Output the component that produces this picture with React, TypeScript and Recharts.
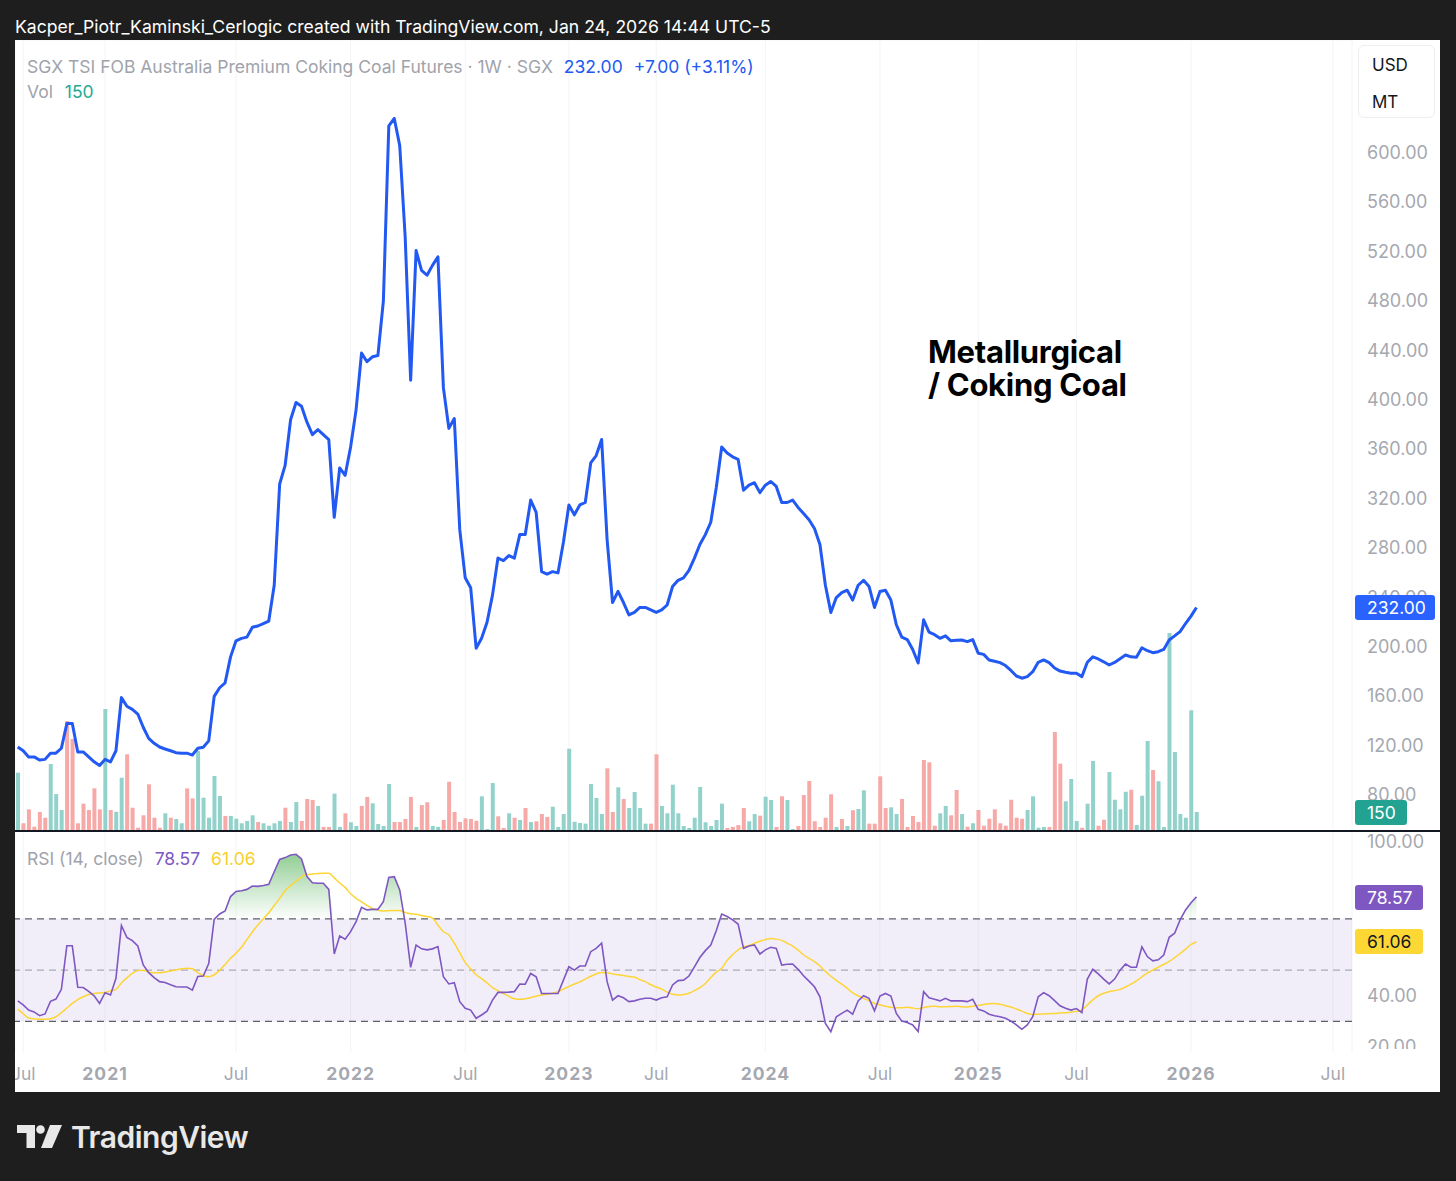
import React from "react";
import {
  ComposedChart, Line, Bar, Cell, XAxis, YAxis, CartesianGrid, Area, ReferenceArea, ReferenceLine,
} from "recharts";

// ---------------- DATA ----------------
const PRICE = [
  119, 116, 111, 111, 108.5, 109, 114, 114, 118, 138, 138, 115, 115, 111, 107, 104, 109, 107, 116, 159,
  152, 149.5, 145.7, 135, 126, 122, 119, 117.4, 116, 114.4, 114, 114, 112.5, 118, 118.8, 124, 160, 167, 171, 192,
  205, 207, 208, 216, 217, 219, 221, 250, 332, 347, 384, 398, 395, 382, 372, 376, 372, 368, 305, 345,
  339, 362, 392, 438, 431, 435, 436, 480, 622, 628, 606, 532, 416, 521, 505, 501, 509, 516, 410, 377,
  385, 295, 256, 248, 199, 207, 220, 242, 272, 270, 274, 272, 291, 291, 319, 309, 261, 259, 261, 260,
  285, 315, 307, 315, 317, 349, 355, 368, 287, 236, 245, 236, 226, 228, 232, 232, 230, 228, 230, 234,
  249, 254, 256, 262, 272, 283, 291, 301, 329, 362, 357, 354, 352, 327, 331, 333, 325, 331, 334, 330,
  317, 317, 319, 313, 308, 303, 296, 283, 250, 228, 240, 244, 246, 238, 250, 254, 249, 232, 245, 246,
  238, 218, 208, 206, 198, 187, 222, 212, 210, 207, 209, 205, 205.5, 205.7, 204.3, 206, 195, 194, 189.5, 188.5,
  187.3, 185, 181, 176.5, 174.7, 176, 180, 187.6, 189.5, 187.3, 183, 180.5, 179.5, 178.7, 178.7, 176, 187.6, 192, 190.3, 188,
  185.4, 187.5, 190.5, 193.5, 192, 191.7, 199.4, 197, 195.4, 196.2, 198, 205.7, 209, 212.5, 219, 225, 232,
];

const VOLUME = [
  461, 61, 171, 34, 150, 105, 529, 292, 166, 869, 727, 61, 216, 166, 337, 171, 964, 166, 152, 421,
  606, 184, 26, 124, 369, 105, 26, 140, 105, 95, 61, 337, 258, 634, 263, 105, 435, 277, 119, 119,
  97, 61, 79, 124, 71, 61, 42, 61, 79, 184, 71, 229, 79, 253, 245, 198, 32, 32, 295, 32,
  140, 69, 40, 198, 269, 219, 55, 40, 371, 71, 71, 95, 269, 32, 205, 227, 40, 32, 87, 389,
  150, 71, 100, 95, 81, 274, 16, 379, 116, 24, 140, 105, 87, 182, 71, 77, 134, 111, 192, 32,
  134, 650, 73, 63, 58, 371, 261, 134, 495, 150, 345, 253, 182, 308, 182, 58, 58, 606, 198, 140,
  366, 140, 40, 24, 105, 348, 69, 40, 87, 216, 24, 32, 47, 182, 77, 134, 121, 271, 245, 32,
  274, 245, 16, 40, 284, 395, 77, 32, 105, 290, 32, 95, 40, 164, 174, 322, 58, 58, 432, 182,
  187, 134, 253, 32, 119, 71, 561, 543, 42, 140, 198, 124, 324, 134, 34, 61, 166, 42, 97, 171,
  61, 42, 247, 105, 97, 166, 274, 26, 32, 32, 782, 532, 235, 411, 79, 26, 216, 553, 42, 89,
  466, 247, 171, 310, 326, 47, 279, 711, 482, 393, 32, 1564, 624, 134, 105, 954, 150,
];

// 1 = up week (teal volume bar), 0 = down week (red volume bar)
const VOL_UP = [
  1, 0, 0, 0, 0, 0, 1, 1, 1, 0, 0, 0, 0, 0, 0, 0, 1, 0, 1, 1,
  0, 0, 0, 0, 0, 0, 0, 1, 0, 1, 1, 0, 0, 1, 1, 1, 1, 1, 0, 1,
  1, 1, 1, 1, 0, 1, 1, 1, 1, 0, 1, 1, 0, 0, 0, 1, 0, 0, 1, 1,
  0, 1, 1, 0, 0, 1, 1, 1, 1, 0, 0, 0, 0, 1, 0, 0, 1, 1, 0, 0,
  0, 0, 0, 0, 0, 1, 1, 1, 0, 0, 1, 0, 1, 0, 1, 0, 0, 0, 1, 1,
  1, 1, 1, 1, 1, 1, 1, 1, 0, 0, 1, 0, 1, 1, 1, 1, 0, 0, 1, 1,
  1, 1, 1, 1, 1, 1, 1, 1, 1, 1, 0, 0, 0, 0, 1, 1, 0, 1, 1, 0,
  0, 1, 1, 0, 0, 0, 0, 0, 0, 0, 1, 0, 1, 0, 1, 1, 0, 0, 0, 0,
  1, 1, 0, 0, 0, 0, 0, 0, 0, 1, 1, 0, 0, 1, 0, 1, 0, 0, 0, 0,
  0, 0, 0, 0, 0, 1, 1, 1, 1, 0, 0, 0, 1, 1, 1, 0, 1, 1, 0, 0,
  1, 1, 1, 1, 0, 1, 1, 1, 0, 1, 1, 1, 1, 1, 1, 1, 1,
];

const RSI = [
  38, 36.4, 34.4, 33.7, 32.2, 32.9, 37.8, 38.7, 42.5, 59.5, 59.5, 43.3, 43.2, 41.7, 40, 37, 41.2, 40.3, 46.8, 67.4,
  62.8, 61.5, 59.4, 52, 49, 47.1, 45.5, 45.2, 44.3, 43.5, 43.4, 43.4, 42.2, 47.5, 47.7, 52.6, 69.8, 71.9, 73.1, 78.7,
  80.7, 81, 81.5, 82.8, 82.7, 83, 83.5, 88.4, 93.2, 93.9, 94.9, 95.2, 93.4, 86.5, 84.1, 83.9, 83.9, 81.5, 56.3, 63.3,
  62.1, 65, 68.9, 74.5, 73.5, 73.7, 73.7, 76.7, 86.2, 86.5, 81.3, 68.3, 51.1, 59.8, 58.3, 57.9, 58.3, 59.2, 47.4, 44.6,
  45.1, 37.7, 35.1, 34.4, 31.2, 32.5, 34, 38.3, 41.3, 41.3, 41.4, 41.6, 44.6, 44.5, 48.7, 47.4, 40.9, 40.9, 40.9, 40.9,
  46.1, 51.3, 50, 51.6, 51.6, 57.2, 58.5, 60.5, 45.5, 38.3, 40, 39.2, 37.7, 38, 38.6, 39, 39, 38.3, 39.2, 39.6,
  44.2, 45.9, 46.1, 47.7, 51.3, 54.9, 57.6, 59.8, 65.4, 71.9, 70.9, 69.6, 68, 58.5, 59.4, 59.8, 56.3, 57.9, 58.9, 58.5,
  52, 52.3, 52.4, 50.3, 47.8, 45.7, 43.5, 39.6, 29.2, 26, 31.8, 33.1, 34.4, 32.8, 38, 40, 39, 34.1, 39.9, 40.9,
  39.9, 33.1, 30.1, 29.6, 28.6, 26, 41.6, 39.2, 38.6, 38, 39, 38, 38, 38, 37.7, 38.6, 34.7, 34.1, 32.8, 32.2,
  31.8, 31.2, 30.1, 28.6, 26.9, 28.6, 31.8, 39.6, 41.2, 40, 38.1, 36.1, 35.1, 34.4, 35, 33.4, 46.5, 50.3, 48.5, 46.5,
  44.6, 46.5, 50, 52.4, 51.1, 51.1, 59.1, 55.3, 53.6, 54, 55.9, 62.8, 64.4, 69.6, 73.5, 76.3, 78.57,
];

const RSI_MA = [
  34.8, 33, 31.3, 31, 30.8, 30.8, 31, 31.8, 33.4, 35.2, 37, 38.5, 39.6, 40.5, 40.9, 41.1, 41.3, 41.9, 42.5, 45,
  47, 48.7, 49.8, 50, 49.2, 49, 49, 49.3, 49.7, 50.1, 50.5, 50.7, 50.5, 49, 47.8, 47.4, 48.2, 49.9, 52.2, 54.6,
  56.6, 58.9, 61.9, 64.9, 67.6, 70, 72.4, 75.2, 78, 81, 83, 84.6, 86.4, 87.3, 87.5, 87.7, 87.8, 87.8, 86, 84,
  82.3, 79.8, 78, 76.6, 75.3, 74, 73.4, 73.1, 73.2, 73.3, 73.3, 72.5, 72, 71.8, 71.3, 70.9, 70.3, 67.6, 65, 63.7,
  60.5, 56.8, 53, 50.5, 48.2, 46.7, 45, 43.2, 42, 40.8, 39.8, 38.8, 38.6, 38.8, 39.3, 39.8, 40.3, 40.6, 41, 41.6,
  42.6, 43.6, 44.6, 45.4, 46.5, 47.6, 48.5, 49.1, 49, 48.5, 48.2, 47.9, 47.5, 47.3, 46.3, 45.5, 44.3, 43.4, 42.6, 41.4,
  40.6, 40.3, 40.5, 41, 42, 43.2, 44.8, 47.1, 49.2, 50.7, 53.8, 56, 57.9, 59, 59.6, 60.5, 61.3, 61.9, 62.3, 62.1,
  61.6, 60.5, 59.4, 57.8, 56, 54.6, 53.3, 51.6, 49.5, 47.6, 46, 44.5, 42.9, 41.1, 40, 39, 38.1, 37, 36.5, 35.9,
  35.5, 35.3, 35.3, 35.5, 35.2, 34.9, 35.4, 35.8, 35.9, 35.7, 35.7, 35.8, 35.9, 35.7, 35.6, 35.9, 36.2, 36.6, 36.9, 37,
  36.7, 36.1, 35.6, 34.8, 34, 33.1, 32.7, 32.8, 32.9, 33, 33.1, 33.3, 33.4, 33.6, 33.9, 34.5, 36.4, 38.4, 40, 41,
  41.6, 42, 42.5, 43.4, 44.5, 45.8, 47.4, 48.9, 50, 51.2, 52.2, 53.4, 54.9, 56.5, 58.2, 60, 61.06,
];

// time-axis ticks (bar slot index -> label)
const TIME_TICK_IDX = [1, 16, 40, 61, 82, 101, 117, 137, 158, 176, 194, 215, 241];
const TIME_TICK_LABELS = ["Jul", "2021", "Jul", "2022", "Jul", "2023", "Jul", "2024", "Jul", "2025", "Jul", "2026", "Jul"];
const PRICE_TICKS = [80, 120, 160, 200, 240, 280, 320, 360, 400, 440, 480, 520, 560, 600];
const RSI_TICKS = [20, 40, 60, 80, 100];

const LAST_PRICE = 232.0;
const LAST_VOL = 150;
const LAST_RSI = 78.57;
const LAST_RSI_MA = 61.06;
const SLOT_COUNT = 245; // bars + empty future slots on the time scale

// ---------------- STYLE ----------------
const FONT = "Inter, 'Noto Sans', Roboto, sans-serif";
const TEAL = "#93d2cb";
const RED = "#f6a9a7";
const BLUE = "#2159f2";
const PURPLE = "#7e57c2";
const YELLOW = "#fdd535";
const AXIS_TEXT = "#a5a8b0";

const rows = Array.from({ length: SLOT_COUNT }, (_, i) => ({
  i,
  price: i < PRICE.length ? PRICE[i] : null,
  vol: i < VOLUME.length ? VOLUME[i] : null,
  up: VOL_UP[i] === 1,
  rsi: i < RSI.length ? RSI[i] : null,
  ma: i < RSI_MA.length ? RSI_MA[i] : null,
  ob: i < RSI.length ? Math.max(RSI[i], 70) : null,
}));

const PriceTick = (props: any) => {
  const { x, y, payload } = props;
  return (
    <text x={x + 7} y={y} dy={6} fill={AXIS_TEXT} fontSize={18} fontFamily={FONT} textAnchor="start">
      {Number(payload.value).toFixed(2)}
    </text>
  );
};

const RsiTick = (props: any) => {
  const { x, y, payload } = props;
  return (
    <text x={x + 7} y={y} dy={6} fill={AXIS_TEXT} fontSize={18} fontFamily={FONT} textAnchor="start" clipPath="url(#rsiPaneClip)">
      {Number(payload.value).toFixed(2)}
    </text>
  );
};

const TimeTick = (props: any) => {
  const { x, y, payload } = props;
  const k = TIME_TICK_IDX.indexOf(payload.value);
  const label = k >= 0 ? TIME_TICK_LABELS[k] : "";
  const isYear = /^\d+$/.test(label);
  return (
    <text x={x} y={y} dy={20} fill={AXIS_TEXT} fontSize={17.5} fontWeight={isYear ? 700 : 400}
      fontFamily={FONT} textAnchor="middle" letterSpacing={isYear ? 1 : 0}>
      {label}
    </text>
  );
};

const Badge = ({ top, width, bg, color, text }: any) => (
  <div style={{
    position: "absolute", left: 1340, top, width, height: 25, background: bg, color,
    borderRadius: 3, fontSize: 17.5, lineHeight: "25px", paddingLeft: 12, boxSizing: "border-box", fontFamily: FONT,
  }}>{text}</div>
);

export default function App() {
  return (
    <div style={{ position: "relative", width: 1456, height: 1181, background: "#1e1e1e", fontFamily: FONT, overflow: "hidden" }}>
      <style>{`body{margin:0}`}</style>
      <div style={{ position: "absolute", left: 15, top: 16, color: "#ffffff", fontSize: 17.6, whiteSpace: "nowrap" }}>
        Kacper_Piotr_Kaminski_Cerlogic created with TradingView.com, Jan 24, 2026 14:44 UTC-5
      </div>

      <div style={{ position: "absolute", left: 15, top: 40, width: 1425, height: 1052, background: "#ffffff", overflow: "hidden" }}>
        {/* main price pane */}
        <div style={{ position: "absolute", left: 0, top: 0 }}>
          <ComposedChart width={1425} height={791} data={rows} margin={{ top: 0, right: 0, bottom: 0, left: 0 }} barCategoryGap={0}>
            <CartesianGrid stroke="#f3f4f6" vertical={true} horizontal={true} />
            <XAxis dataKey="i" type="category" scale="band" hide ticks={TIME_TICK_IDX} interval={0} />
            <YAxis yAxisId="p" orientation="right" width={88} domain={[51, 691.5]} ticks={PRICE_TICKS}
              axisLine={false} tickLine={false} tick={<PriceTick />} allowDataOverflow />
            <YAxis yAxisId="v" hide domain={[0, 6250]} allowDataOverflow />
            <Bar yAxisId="v" dataKey="vol" barSize={4} isAnimationActive={false}>
              {rows.map((r) => (<Cell key={r.i} fill={r.up ? TEAL : RED} />))}
            </Bar>
            <Line yAxisId="p" dataKey="price" type="linear" stroke={BLUE} strokeWidth={3} dot={false}
              isAnimationActive={false} strokeLinejoin="round" />
          </ComposedChart>
        </div>

        {/* legend */}
        <div style={{ position: "absolute", left: 12, top: 16, fontSize: 17.5, whiteSpace: "nowrap", color: "#a0a3ab" }}>
          SGX TSI FOB Australia Premium Coking Coal Futures · 1W · SGX
          <span style={{ color: BLUE, marginLeft: 11 }}>232.00</span>
          <span style={{ color: BLUE, marginLeft: 11 }}>+7.00 (+3.11%)</span>
        </div>
        <div style={{ position: "absolute", left: 12, top: 41, fontSize: 17.5, whiteSpace: "nowrap", color: "#a0a3ab" }}>
          Vol <span style={{ color: "#22ab94", marginLeft: 7 }}>150</span>
        </div>

        {/* currency box */}
        <div style={{ position: "absolute", left: 1343, top: 5, width: 77, height: 73, border: "1px solid #eceef2",
          borderRadius: 6, boxSizing: "border-box", color: "#131722", fontSize: 17 }}>
          <div style={{ position: "absolute", left: 13, top: 9 }}>USD</div>
          <div style={{ position: "absolute", left: 13, top: 46 }}>MT</div>
        </div>

        {/* annotation */}
        <div style={{ position: "absolute", left: 913, top: 295, fontSize: 31, fontWeight: 700, color: "#000", lineHeight: "33px", letterSpacing: -0.3 }}>
          Metallurgical<br />/ Coking Coal
        </div>

        <Badge top={555} width={80} bg="#2962ff" color="#fff" text={LAST_PRICE.toFixed(2)} />
        <Badge top={760} width={52} bg="#22a392" color="#fff" text={String(LAST_VOL)} />

        {/* pane separator */}
        <div style={{ position: "absolute", left: 0, top: 790, width: 1425, height: 2, background: "#131722" }} />

        {/* RSI pane + time axis */}
        <div style={{ position: "absolute", left: 0, top: 792 }}>
          <ComposedChart width={1425} height={260} data={rows} margin={{ top: 0, right: 0, bottom: 0, left: 0 }}>
            <defs>
              <clipPath id="rsiPaneClip"><rect x={0} y={0} width={1425} height={217} /></clipPath>
              <linearGradient id="obFill" x1="0" y1="0" x2="0" y2="1">
                <stop offset="0%" stopColor="#3fa843" stopOpacity={0.95} />
                <stop offset="100%" stopColor="#4caf50" stopOpacity={0.02} />
              </linearGradient>
            </defs>
            <CartesianGrid stroke="#f3f4f6" vertical={true} horizontal={false} />
            <XAxis dataKey="i" type="category" scale="band" ticks={TIME_TICK_IDX} interval={0} height={40}
              axisLine={false} tickLine={false} tick={<TimeTick />} />
            <YAxis orientation="right" width={88} domain={[18.05, 103.9]} ticks={RSI_TICKS}
              axisLine={false} tickLine={false} tick={<RsiTick />} allowDataOverflow />
            <ReferenceArea y1={30} y2={70} fill="#7e57c2" fillOpacity={0.1} stroke="none" ifOverflow="hidden" />
            <ReferenceLine y={70} stroke="#5d606b" strokeDasharray="7 5" strokeWidth={1.2} />
            <ReferenceLine y={50} stroke="#a9acb4" strokeDasharray="7 5" strokeWidth={1.2} />
            <ReferenceLine y={30} stroke="#5d606b" strokeDasharray="7 5" strokeWidth={1.2} />
            <Area dataKey="ob" baseValue={70} type="linear" stroke="none" fill="url(#obFill)" isAnimationActive={false} />
            <Line dataKey="ma" type="monotone" stroke={YELLOW} strokeWidth={1.5} dot={false} isAnimationActive={false} />
            <Line dataKey="rsi" type="linear" stroke={PURPLE} strokeWidth={1.6} dot={false} isAnimationActive={false} />
          </ComposedChart>
        </div>

        <div style={{ position: "absolute", left: 12, top: 808, fontSize: 17.5, whiteSpace: "nowrap", color: "#a0a3ab" }}>
          RSI (14, close)
          <span style={{ color: PURPLE, marginLeft: 11 }}>78.57</span>
          <span style={{ color: "#f7d02c", marginLeft: 11 }}>61.06</span>
        </div>

        <Badge top={845} width={68} bg="#7e57c2" color="#fff" text={LAST_RSI.toFixed(2)} />
        <Badge top={889} width={68} bg="#fdd835" color="#131722" text={LAST_RSI_MA.toFixed(2)} />
      </div>

      {/* TradingView logo */}
      <svg style={{ position: "absolute", left: 17, top: 1125 }} width={48} height={24} viewBox="0 0 48 24">
        <path d="M0 0 H18 V23 H9.5 V8 H0 Z" fill="#e8e8e8" />
        <circle cx={23.5} cy={4.5} r={4.3} fill="#e8e8e8" />
        <path d="M33 0 H45 L35 23 H24 Z" fill="#e8e8e8" />
      </svg>
      <div style={{ position: "absolute", left: 71, top: 1119, color: "#e8e8e8", fontSize: 30, fontWeight: 600, letterSpacing: -0.5 }}>
        TradingView
      </div>
    </div>
  );
}
